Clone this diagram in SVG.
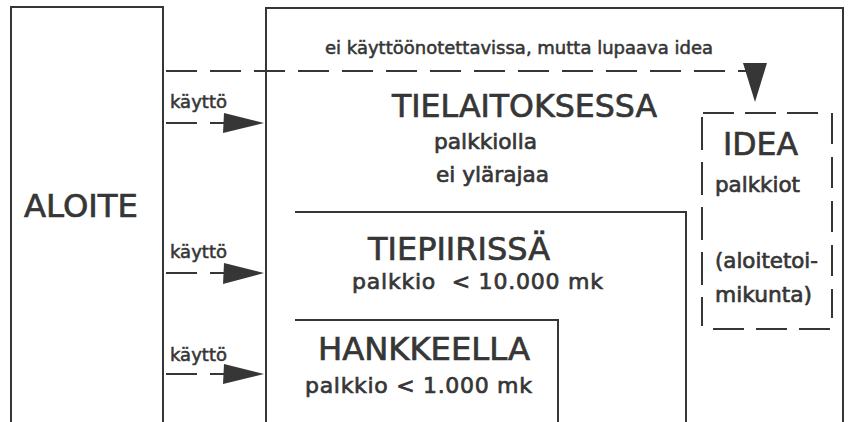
<svg xmlns="http://www.w3.org/2000/svg" width="850" height="422" viewBox="0 0 850 422">
<style>
.ln{fill:none;stroke:#363636;stroke-width:2}
.ds{fill:none;stroke:#363636;stroke-width:2;stroke-dasharray:31 13}
.dsb{fill:none;stroke:#363636;stroke-width:2}
.hd{fill:#363636;stroke:none}
.t{font-family:"DejaVu Sans",sans-serif;fill:#363636;stroke:#363636}
.big{font-size:32px;stroke-width:0.7}
.sm{font-size:22px;stroke-width:0.7}
.lb{font-size:18px;stroke-width:0.55}
</style>
<rect width="850" height="422" fill="#ffffff"/>
<g id="aloite">
<path class="ln" d="M11,423 V7 H163 V423"/>
<text class="t big" x="24" y="217" textLength="114" lengthAdjust="spacingAndGlyphs">ALOITE</text>
</g>
<g id="tielaitos">
<path class="ln" d="M266,423 V8 H843 V423"/>
<text class="t big" x="392" y="117" textLength="265" lengthAdjust="spacingAndGlyphs">TIELAITOKSESSA</text>
<text class="t sm" x="434" y="149" textLength="103" lengthAdjust="spacingAndGlyphs">palkkiolla</text>
<text class="t sm" x="436" y="182" textLength="113" lengthAdjust="spacingAndGlyphs">ei ylärajaa</text>
</g>
<g id="tiepiiri">
<path class="ln" d="M295,212 H686 V423"/>
<text class="t big" x="368" y="260" textLength="182" lengthAdjust="spacingAndGlyphs">TIEPIIRISSÄ</text>
<text class="t sm" x="352" y="289" textLength="251" lengthAdjust="spacing" xml:space="preserve">palkkio  &lt; 10.000 mk</text>
</g>
<g id="hanke">
<path class="ln" d="M295,320 H558 V423"/>
<text class="t big" x="318" y="360" textLength="212" lengthAdjust="spacingAndGlyphs">HANKKEELLA</text>
<text class="t sm" x="305" y="393" textLength="227" lengthAdjust="spacing">palkkio &lt; 1.000 mk</text>
</g>
<g id="idea">
<line class="dsb" x1="703" y1="113" x2="820" y2="113" stroke-dasharray="31 11"/>
<line class="dsb" x1="713" y1="329" x2="832" y2="329" stroke-dasharray="31 12"/>
<line class="dsb" x1="702" y1="117" x2="702" y2="326" stroke-dasharray="33 12"/>
<line class="dsb" x1="832" y1="113" x2="832" y2="318" stroke-dasharray="31 13"/>
<text class="t big" x="723" y="155" textLength="75" lengthAdjust="spacingAndGlyphs">IDEA</text>
<text class="t sm" x="715" y="192" textLength="85" lengthAdjust="spacingAndGlyphs">palkkiot</text>
<text class="t sm" x="715" y="268" textLength="103" lengthAdjust="spacingAndGlyphs">(aloitetoi-</text>
<text class="t sm" x="715" y="302" textLength="97" lengthAdjust="spacingAndGlyphs">mikunta)</text>
</g>
<g id="connectors">
<line class="ds" x1="166" y1="71" x2="748" y2="71" stroke-dasharray="33 12"/>
<polygon class="hd" points="743,63 767,63 755,102"/>
<text class="t lb" x="325" y="54" textLength="388" lengthAdjust="spacingAndGlyphs">ei käyttöönotettavissa, mutta lupaava idea</text>
<line class="ds" x1="166" y1="123" x2="226" y2="123"/>
<polygon class="hd" points="224,113 264,123 223,133"/>
<text class="t lb" x="170" y="108" textLength="57" lengthAdjust="spacingAndGlyphs">käyttö</text>
<line class="ds" x1="166" y1="273" x2="226" y2="273"/>
<polygon class="hd" points="224,263 264,273 223,284"/>
<text class="t lb" x="170" y="258" textLength="57" lengthAdjust="spacingAndGlyphs">käyttö</text>
<line class="ds" x1="166" y1="374" x2="226" y2="374"/>
<polygon class="hd" points="224,364 264,374 223,384"/>
<text class="t lb" x="170" y="361" textLength="57" lengthAdjust="spacingAndGlyphs">käyttö</text>
</g>
</svg>
